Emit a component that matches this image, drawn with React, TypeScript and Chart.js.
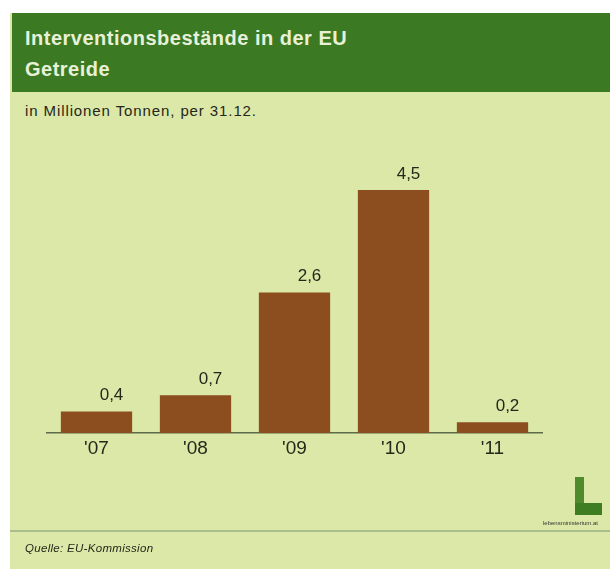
import React, { useEffect, useRef } from "react";
import { Chart, registerables } from "chart.js";

Chart.register(...registerables);

const categories = ["'07", "'08", "'09", "'10", "'11"];
const values = [0.4, 0.7, 2.6, 4.5, 0.2];
const valueLabels = ["0,4", "0,7", "2,6", "4,5", "0,2"];

const BG = "#dbe8a7";
const HEADER = "#3b7a23";
const BAR = "#8d4e1f";
const TEXT = "#26271b";
const FONT = "'Liberation Sans', Arial, Helvetica, sans-serif";

export default function App() {
  const ref = useRef<HTMLCanvasElement | null>(null);

  useEffect(() => {
    document.body.style.margin = "0";
    const valueLabelPlugin = {
      id: "valueLabels",
      afterDatasetsDraw(chart: any) {
        const ctx = chart.ctx;
        const meta = chart.getDatasetMeta(0);
        ctx.save();
        ctx.fillStyle = TEXT;
        ctx.font = `17px ${FONT}`;
        ctx.textAlign = "center";
        ctx.textBaseline = "middle";
        meta.data.forEach((el: any, i: number) => {
          ctx.fillText(valueLabels[i], el.x + 15, el.y - 16);
        });
        ctx.restore();
      },
    };
    const chart = new Chart(ref.current as HTMLCanvasElement, {
      type: "bar",
      data: {
        labels: categories,
        datasets: [
          {
            data: values,
            backgroundColor: BAR,
            borderWidth: 0,
            categoryPercentage: 1,
            barPercentage: 0.72,
          },
        ],
      },
      options: {
        animation: false,
        responsive: false,
        maintainAspectRatio: false,
        layout: { padding: { left: 47, right: 68, top: 190, bottom: 0 } },
        plugins: { legend: { display: false }, tooltip: { enabled: false } },
        scales: {
          x: {
            grid: { display: false, drawTicks: false },
            border: { display: true, color: "#5d6b4a", width: 1.5 },
            ticks: {
              color: TEXT,
              font: { family: FONT, size: 19 },
              padding: 4,
            },
            afterFit(scale: any) {
              scale.height = 136;
            },
          },
          y: {
            display: false,
            min: 0,
            max: 4.5,
          },
        },
      },
      plugins: [valueLabelPlugin],
    });
    return () => chart.destroy();
  }, []);

  return (
    <div style={{ position: "absolute", left: 0, top: 0, width: 610, height: 569, background: "#fff", overflow: "hidden", fontFamily: FONT }}>
      <div style={{ position: "absolute", left: 10, top: 13, width: 600, height: 556, background: BG }} />
      <div style={{ position: "absolute", left: 12, top: 13, width: 598, height: 79, background: HEADER }} />
      <div style={{ position: "absolute", left: 25, top: 23, color: "#e8f1d8", fontSize: 20, fontWeight: "bold", letterSpacing: 0.5, lineHeight: "31px", whiteSpace: "nowrap" }}>
        Interventionsbestände in der EU
        <br />
        Getreide
      </div>
      <div style={{ position: "absolute", left: 25, top: 102, color: TEXT, fontSize: 15, letterSpacing: 0.9, lineHeight: "18px", whiteSpace: "nowrap" }}>
        in Millionen Tonnen, per 31.12.
      </div>
      <canvas ref={ref} width={610} height={569} style={{ position: "absolute", left: 0, top: 0, width: 610, height: 569 }} />
      <div style={{ position: "absolute", left: 575, top: 477, width: 9, height: 38, background: "#4f8a2c" }} />
      <div style={{ position: "absolute", left: 575, top: 503, width: 27, height: 12, background: "#3f7d22" }} />
      <div style={{ position: "absolute", left: 508, top: 519, width: 90, textAlign: "right", fontSize: 6, color: "#333", lineHeight: "8px" }}>
        lebensministerium.at
      </div>
      <div style={{ position: "absolute", left: 10, top: 530, width: 600, height: 2, background: "#a9bf8e" }} />
      <div style={{ position: "absolute", left: 25, top: 541, color: TEXT, fontSize: 11.5, fontStyle: "italic", letterSpacing: 0.3, lineHeight: "14px", whiteSpace: "nowrap" }}>
        Quelle: EU-Kommission
      </div>
    </div>
  );
}
